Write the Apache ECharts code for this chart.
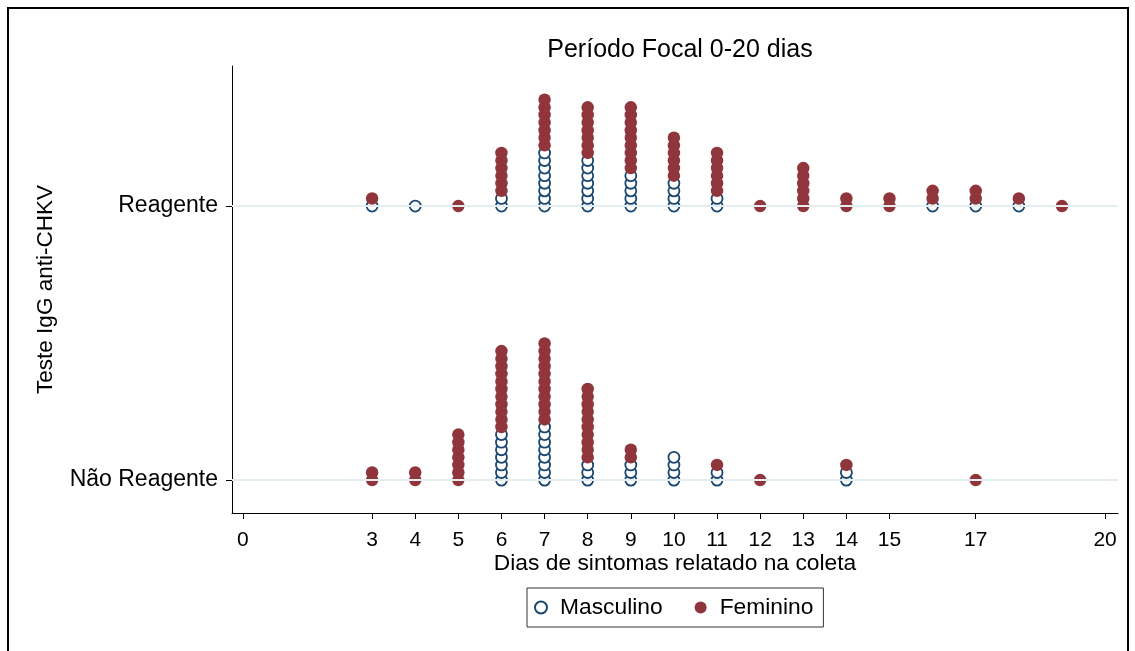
<!DOCTYPE html>
<html>
<head>
<meta charset="utf-8">
<title>Período Focal 0-20 dias</title>
<script src="https://cdn.jsdelivr.net/npm/echarts@6/dist/echarts.min.js"></script>
<style>
  html, body { margin: 0; padding: 0; background: #ffffff; }
  #chart { width: 1135px; height: 651px; }
</style>
</head>
<body>
<div id="chart"></div>
<script>
// Days of symptoms shown on the x axis
const dayTicks = [0, 3, 4, 5, 6, 7, 8, 9, 10, 11, 12, 13, 14, 15, 17, 20];
// Test result groups (y position 0 and 1)
const groups = ['Não Reagente', 'Reagente'];

// Reagente: counts per day by sex
const reagenteDays = [3, 4, 5, 6, 7, 8, 9, 10, 11, 12, 13, 14, 15, 16, 17, 18, 19];
const reagenteMasc = [1, 1, 0, 2, 8, 7, 5, 4, 2, 0, 0, 0, 0, 1, 1, 1, 0];
const reagenteFem  = [1, 0, 1, 6, 7, 7, 9, 6, 6, 1, 6, 2, 2, 2, 2, 1, 1];

// Não Reagente: counts per day by sex
const naoReagDays = [3, 4, 5, 6, 7, 8, 9, 10, 11, 12, 14, 17];
const naoReagMasc = [0, 0, 0, 7, 8, 3, 3, 4, 2, 0, 2, 0];
const naoReagFem  = [2, 2, 7, 11, 11, 10, 2, 0, 1, 1, 1, 1];

// vertical spacing between stacked dots, in y-axis units
const dotStep = 0.0277;

const masc = [];
const fem = [];
function stackDots(days, m, f, base) {
  days.forEach((d, i) => {
    for (let k = 0; k < m[i]; k++) masc.push([d, base + k * dotStep]);
    for (let k = 0; k < f[i]; k++) fem.push([d, base + (m[i] + k) * dotStep]);
  });
}
stackDots(reagenteDays, reagenteMasc, reagenteFem, 1);
stackDots(naoReagDays, naoReagMasc, naoReagFem, 0);

const NAVY = '#1a476f';
const MAROON = '#90353b';
const FONT = 'Arial, "Liberation Sans", sans-serif';

const chart = echarts.init(document.getElementById('chart'));
chart.setOption({
  animation: false,
  backgroundColor: '#ffffff',
  title: {
    text: 'Período Focal 0-20 dias',
    left: 675,
    top: 33,
    textAlign: 'center',
    textStyle: { fontFamily: FONT, fontSize: 25, fontWeight: 'normal', color: '#000' }
  },
  grid: { left: 232, right: 17, top: 66, bottom: 138, containLabel: false },
  xAxis: {
    type: 'value',
    min: -0.25,
    max: 20.3,
    name: 'Dias de sintomas relatado na coleta',
    nameLocation: 'middle',
    nameGap: 39,
    nameMoveOverlap: false,
    nameTextStyle: { fontFamily: FONT, fontSize: 22.8, color: '#000' },
    axisLine: { show: true, onZero: false, lineStyle: { color: '#000', width: 1 } },
    axisTick: { show: true, length: 6, customValues: dayTicks, lineStyle: { color: '#000' } },
    axisLabel: { customValues: dayTicks, margin: 17, fontFamily: FONT, fontSize: 21, color: '#000' },
    splitLine: { show: false }
  },
  yAxis: {
    type: 'value',
    min: -0.12,
    max: 1.511,
    name: 'Teste IgG anti-CHKV',
    nameLocation: 'middle',
    nameGap: 175,
    nameTextStyle: { fontFamily: FONT, fontSize: 22.5, color: '#000' },
    axisLine: { show: true, onZero: false, lineStyle: { color: '#000', width: 1 } },
    axisTick: { show: true, length: 6, customValues: [0, 1], lineStyle: { color: '#000' } },
    axisLabel: {
      customValues: [0, 1],
      margin: 14,
      fontFamily: FONT,
      fontSize: 23,
      color: '#000',
      formatter: v => groups[Math.round(v)]
    },
    splitLine: { show: false }
  },
  legend: {
    left: 527,
    top: 588,
    orient: 'horizontal',
    padding: [8, 10, 8, 7],
    itemGap: 32,
    itemWidth: 28,
    itemHeight: 12,
    borderColor: '#333',
    borderWidth: 1,
    textStyle: { fontFamily: FONT, fontSize: 22.8, color: '#000' },
    data: ['Masculino', 'Feminino']
  },
  series: [
    {
      name: 'grade',
      type: 'line',
      data: [],
      z: 1,
      silent: true,
      markLine: {
        silent: true,
        symbol: 'none',
        label: { show: false },
        lineStyle: { color: '#e4eef1', width: 2, type: 'solid' },
        data: [{ yAxis: 0 }, { yAxis: 1 }]
      }
    },
    {
      name: 'Masculino',
      type: 'scatter',
      data: masc,
      symbol: 'circle',
      symbolSize: 11,
      z: 3,
      itemStyle: { color: '#ffffff', borderColor: NAVY, borderWidth: 1.8, opacity: 1 }
    },
    {
      name: 'Feminino',
      type: 'scatter',
      data: fem,
      symbol: 'circle',
      symbolSize: 12.5,
      z: 4,
      itemStyle: { color: MAROON, opacity: 1 }
    }
  ],
  graphic: [
    {
      type: 'rect',
      silent: true,
      shape: { x: 8, y: 8, width: 1120, height: 700 },
      style: { fill: 'none', stroke: '#000', lineWidth: 2 }
    }
  ]
});
</script>
</body>
</html>
